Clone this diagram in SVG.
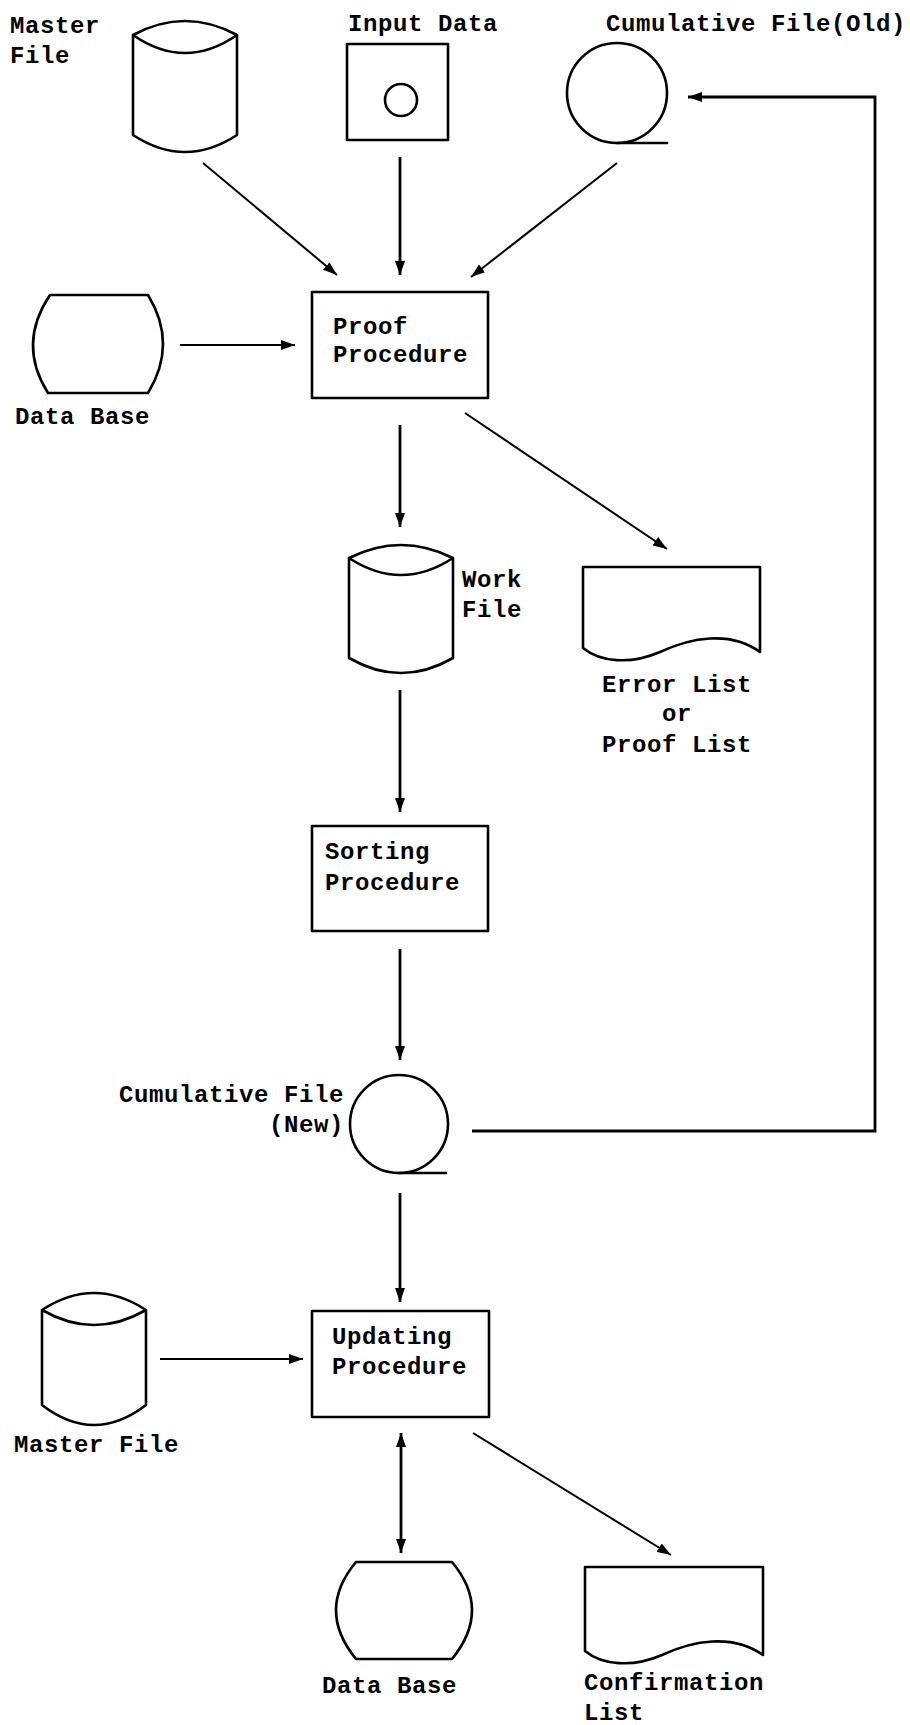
<svg xmlns="http://www.w3.org/2000/svg" width="910" height="1725" viewBox="0 0 910 1725">
<defs>
<style>
.s{fill:none;stroke:#000;stroke-width:2.6;stroke-linejoin:round;stroke-linecap:round}
.t{font-family:"Liberation Mono","DejaVu Sans Mono",monospace;font-weight:bold;font-size:24px;letter-spacing:0.6px;fill:#000}
.c{fill:none;stroke:#000;stroke-width:2.8}
.d{fill:none;stroke:#000;stroke-width:2}
</style>
<marker id="ah" viewBox="0 0 14 10" refX="14" refY="5" markerWidth="14" markerHeight="10" orient="auto-start-reverse" markerUnits="userSpaceOnUse">
<path d="M0,0 L14,5 L0,10 z" fill="#000"/>
</marker>
</defs>
<rect width="910" height="1725" fill="#fff"/>

<g id="master-file-top">
<path class="s" d="M133,35 Q185,7 237,35 Q185,71 133,35 V135 Q185,169 237,135 V35"/>
<text class="t" x="10" y="33">Master</text>
<text class="t" x="10" y="63">File</text>
</g>

<g id="input-data">
<rect class="s" x="347" y="44" width="101" height="96"/>
<circle class="s" cx="401" cy="100" r="16"/>
<text class="t" x="348" y="31">Input Data</text>
</g>

<g id="cumulative-old">
<circle class="s" cx="617" cy="93" r="50"/>
<line class="s" x1="617" y1="143" x2="667" y2="143"/>
<text class="t" x="606" y="31">Cumulative File(Old)</text>
</g>

<g id="data-base-top">
<path class="s" d="M50,295 H148 Q178,344 148,393 H48 Q17,344 50,295 Z"/>
<text class="t" x="15" y="424">Data Base</text>
</g>

<g id="proof-procedure">
<rect class="s" x="312" y="292" width="176" height="106"/>
<text class="t" x="333" y="334">Proof</text>
<text class="t" x="333" y="362">Procedure</text>
</g>

<g id="work-file">
<path class="s" d="M349,558 Q401,532 453,558 Q401,592 349,558 V658 Q401,688 453,658 V558"/>
<text class="t" x="462" y="587">Work</text>
<text class="t" x="462" y="617">File</text>
</g>

<g id="error-list">
<path class="s" d="M583,567 V648 C600,662 630,665 660,652 C690,638 730,630 760,652 V567 Z"/>
<text class="t" x="677" y="692" text-anchor="middle">Error List</text>
<text class="t" x="677" y="721" text-anchor="middle">or</text>
<text class="t" x="677" y="752" text-anchor="middle">Proof List</text>
</g>

<g id="sorting-procedure">
<rect class="s" x="312" y="826" width="176" height="105"/>
<text class="t" x="325" y="859">Sorting</text>
<text class="t" x="325" y="890">Procedure</text>
</g>

<g id="cumulative-new">
<circle class="s" cx="399" cy="1124" r="49"/>
<line class="s" x1="399" y1="1173" x2="446" y2="1173"/>
<text class="t" x="344" y="1102" text-anchor="end">Cumulative File</text>
<text class="t" x="344" y="1132" text-anchor="end">(New)</text>
</g>

<g id="master-file-bottom">
<path class="s" d="M42,1310 Q94,1276 146,1310 Q94,1340 42,1310 V1405 Q94,1445 146,1405 V1310"/>
<text class="t" x="14" y="1452">Master File</text>
</g>

<g id="updating-procedure">
<rect class="s" x="312" y="1311" width="177" height="106"/>
<text class="t" x="332" y="1344">Updating</text>
<text class="t" x="332" y="1374">Procedure</text>
</g>

<g id="data-base-bottom">
<path class="s" d="M356,1562 H452 Q492,1610 452,1659 H356 Q316,1610 356,1562 Z"/>
<text class="t" x="322" y="1693">Data Base</text>
</g>

<g id="confirmation-list">
<path class="s" d="M585,1567 V1651 C602,1665 632,1668 662,1655 C692,1641 732,1633 763,1655 V1567 Z"/>
<text class="t" x="584" y="1690">Confirmation</text>
<text class="t" x="584" y="1720">List</text>
</g>

<g id="connectors">
<line class="d" x1="203" y1="163" x2="337" y2="275" marker-end="url(#ah)"/>
<line class="c" x1="400" y1="157" x2="400" y2="275" marker-end="url(#ah)"/>
<line class="d" x1="617" y1="163" x2="471" y2="277" marker-end="url(#ah)"/>
<line class="d" x1="180" y1="345" x2="295" y2="345" marker-end="url(#ah)"/>
<line class="c" x1="400" y1="425" x2="400" y2="527" marker-end="url(#ah)"/>
<line class="d" x1="465" y1="413" x2="667" y2="549" marker-end="url(#ah)"/>
<line class="c" x1="400" y1="690" x2="400" y2="812" marker-end="url(#ah)"/>
<line class="c" x1="400" y1="949" x2="400" y2="1060" marker-end="url(#ah)"/>
<path class="c" d="M472,1131 H875 V97 H688" marker-end="url(#ah)"/>
<line class="c" x1="400" y1="1193" x2="400" y2="1302" marker-end="url(#ah)"/>
<line class="d" x1="160" y1="1359" x2="303" y2="1359" marker-end="url(#ah)"/>
<line class="c" x1="401" y1="1433" x2="401" y2="1553" marker-start="url(#ah)" marker-end="url(#ah)"/>
<line class="d" x1="473" y1="1433" x2="671" y2="1555" marker-end="url(#ah)"/>
</g>
</svg>
